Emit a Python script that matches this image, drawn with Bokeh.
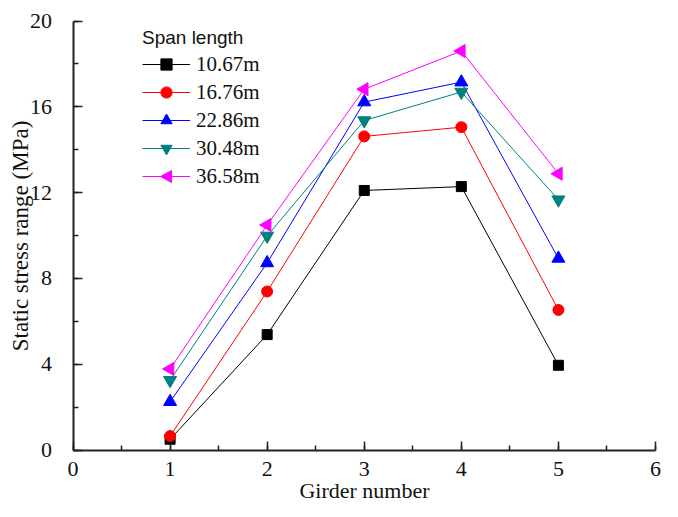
from math import pi
from bokeh.plotting import figure
from bokeh.models import (Legend, LegendItem, SingleIntervalTicker, Range1d,
                          PolyAnnotation)
from bokeh.embed import file_html
from bokeh.resources import INLINE

girders = [1, 2, 3, 4, 5]
s_1067 = [0.50, 5.38, 12.10, 12.28, 3.95]
s_1676 = [0.65, 7.39, 14.62, 15.05, 6.53]
s_2286 = [2.25, 8.72, 16.22, 17.15, 8.93]
s_3048 = [3.25, 9.98, 15.36, 16.69, 11.67]
s_3658 = [3.78, 10.49, 16.82, 18.60, 12.88]
labels = ["10.67m", "16.76m", "22.86m", "30.48m", "36.58m"]

series = [s_1067, s_1676, s_2286, s_3048, s_3658]
colors = ["#000000", "#ff0000", "#0000ff", "#008080", "#ff00ff"]
markers = ["square", "circle", "triangle", "inverted_triangle", "triangle"]
angles = [0, 0, 0, 0, pi / 2]
sizes = [10, 11, 13, 13, 13]

SERIF = "Liberation Serif"
INK = "#111111"
W, H = 662, 501

# The frame fills the whole canvas; both axes are pinned at 0 inside it,
# so the visible axis box spans 0..6 and 0..20.
X0_PX, X6_PX = 72.5, 655.0      # canvas pixels of x = 0 and x = 6
Y20_PX, Y0_PX = 20.5, 449.5     # canvas pixels of y = 20 and y = 0
kx = (X6_PX - X0_PX) / 6
ky = (Y0_PX - Y20_PX) / 20
x_lo, x_hi = -X0_PX / kx, 6 + (W - X6_PX) / kx
y_lo, y_hi = -(H - Y0_PX) / ky, 20 + Y20_PX / ky

p = figure(width=W, height=H, output_backend="svg", toolbar_location=None,
           x_range=Range1d(x_lo, x_hi), y_range=Range1d(y_lo, y_hi),
           min_border_left=0, min_border_right=0, min_border_top=0, min_border_bottom=0)
p.background_fill_color = "white"
p.border_fill_color = "white"
p.outline_line_color = None
p.grid.visible = False

p.xaxis.ticker = SingleIntervalTicker(interval=1, num_minor_ticks=2)
p.yaxis.ticker = SingleIntervalTicker(interval=4, num_minor_ticks=2)
p.xaxis.fixed_location = 0
p.yaxis.fixed_location = 0
p.xaxis.bounds = (0, 6)
p.yaxis.bounds = (0, 20)
p.xaxis.axis_label = "Girder number"
p.yaxis.axis_label = "Static stress range (MPa)"
for ax in (p.xaxis[0], p.yaxis[0]):
    ax.axis_line_width = 2
    ax.axis_line_color = "#222222"
    ax.major_tick_in = 9
    ax.major_tick_out = 0
    ax.minor_tick_in = 5
    ax.minor_tick_out = 0
    ax.major_tick_line_width = 1.5
    ax.minor_tick_line_width = 1.5
    ax.major_tick_line_color = "#222222"
    ax.minor_tick_line_color = "#222222"
    ax.major_label_text_font = SERIF
    ax.major_label_text_font_size = "22px"
    ax.major_label_text_color = INK
    ax.axis_label_text_font = SERIF
    ax.axis_label_text_font_style = "normal"
    ax.axis_label_text_color = INK
p.xaxis.axis_label_text_font_size = "22px"
p.yaxis.axis_label_text_font_size = "23px"
p.xaxis.major_label_standoff = 12
p.xaxis.axis_label_standoff = -2
p.yaxis.major_label_standoff = 21
p.yaxis.axis_label_standoff = -5

items = []
for ys, c, m, a, s, lab in zip(series, colors, markers, angles, sizes, labels):
    ln = p.line(girders, ys, line_color=c, line_width=1)
    sc = p.scatter(girders, ys, marker=m, angle=a, size=s, fill_color=c, line_color=c)
    rends = [ln, sc] if a == 0 else [ln]
    items.append(LegendItem(label=lab, renderers=rends))

LX, LY, GW, GH = 142, 311, 48, 28
legend = Legend(items=items, location=(LX, LY), title="Span length",
                title_text_font="Liberation Sans", title_text_font_size="19px",
                title_text_font_style="normal", title_text_color=INK, title_standoff=1,
                label_text_font=SERIF, label_text_font_size="21px", label_text_color=INK,
                glyph_width=GW, glyph_height=GH, label_height=GH, spacing=0,
                label_standoff=6, padding=0, margin=0,
                border_line_color=None, background_fill_alpha=0)
p.add_layout(legend, "center")

# left-pointing triangle for the last legend entry
cx, cy, r = LX + GW / 2, LY + GH / 2, 6
p.add_layout(PolyAnnotation(xs=[cx - r, cx + r * 0.85, cx + r * 0.85],
                            ys=[cy, cy + r, cy - r],
                            xs_units="screen", ys_units="screen",
                            fill_color=colors[4], fill_alpha=1,
                            line_color=colors[4], line_alpha=1))

open("out.html", "w").write(file_html(p, INLINE))
